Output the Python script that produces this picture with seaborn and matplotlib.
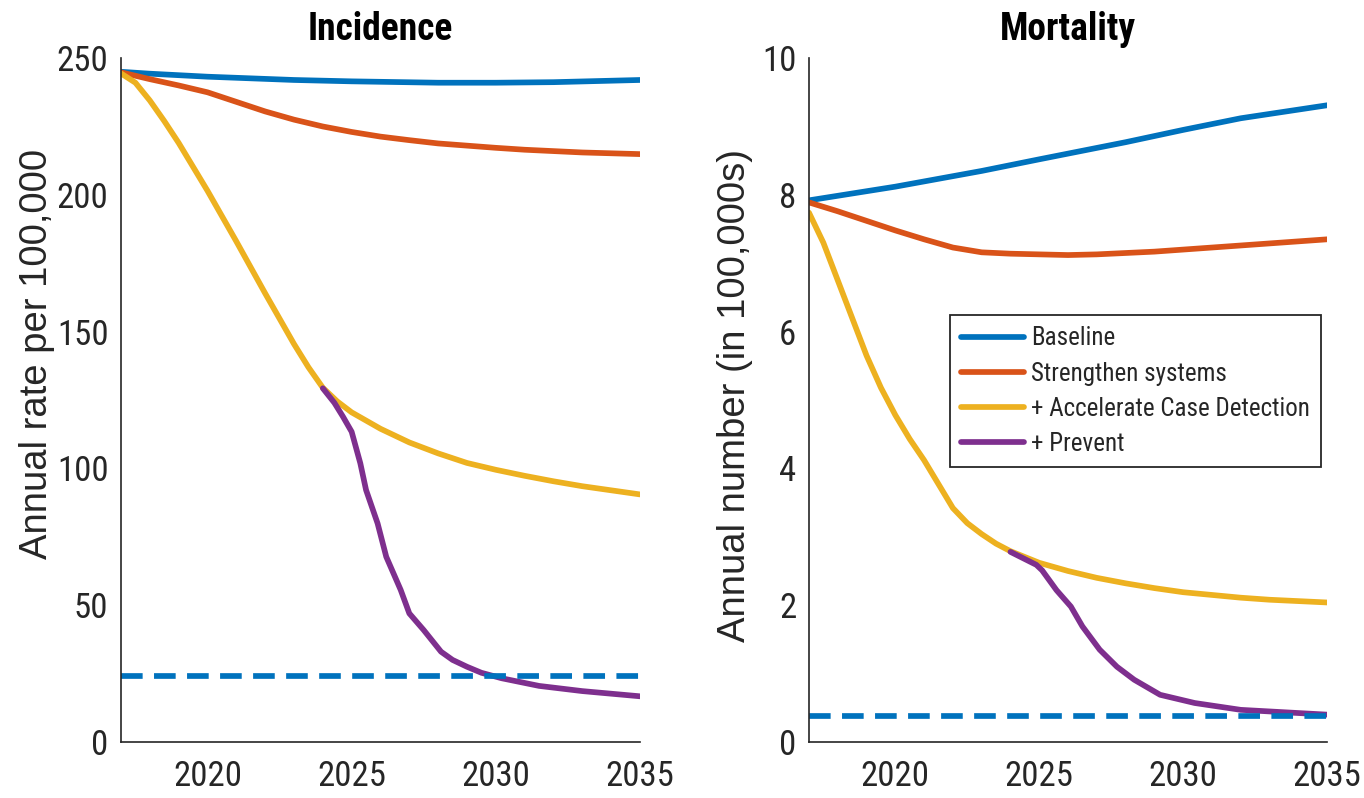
import pandas as pd
import numpy as np
import matplotlib
matplotlib.use('Agg')
import matplotlib.pyplot as plt
import seaborn as sns
from matplotlib import font_manager
from matplotlib.font_manager import FontProperties


# Scenario names and colours (MATLAB default order)
scenarios = ['Baseline', 'Strengthen systems', '+ Accelerate Case Detection', '+ Prevent']
colors = ['#0072BD', '#D95319', '#EDB120', '#7E2F8E']

# Incidence panel (rate per 100,000)
inc_base_yr = [2017, 2018, 2020, 2023, 2025, 2028, 2030, 2032, 2035]
inc_base = [245, 244.3, 243.2, 242.0, 241.5, 241, 241, 241.2, 242]

inc_str_yr = [2017, 2018, 2019, 2020, 2021, 2022, 2023, 2024, 2025, 2026, 2027,
              2028, 2029, 2030, 2031, 2032, 2033, 2034, 2035]
inc_str = [244.8, 242.3, 240, 237.5, 234, 230.5, 227.5, 225, 223, 221.3, 220,
           218.8, 218, 217.2, 216.5, 216, 215.5, 215.2, 214.9]

inc_acd_yr = [2017, 2017.5, 2018, 2018.5, 2019, 2020, 2021, 2022, 2023, 2023.5, 2024,
              2024.5, 2025, 2026, 2027, 2028, 2029, 2030, 2031, 2032, 2033, 2034, 2035]
inc_acd = [244.4, 241, 234.5, 227, 219, 201.5, 183, 164, 145.5, 137, 129.5,
           124.5, 120.5, 114.5, 109.5, 105.5, 102, 99.5, 97.3, 95.3, 93.5, 92, 90.5]

inc_prv_yr = [2024.0, 2024.4, 2024.7, 2025.0, 2025.3, 2025.5, 2025.9, 2026.2, 2026.7, 2027.0,
              2027.5, 2028.1, 2028.5, 2029.0, 2029.5, 2030.2, 2031.5, 2033, 2035]
inc_prv = [129.3, 124, 118.9, 113.4, 101.9, 92.1, 79.9, 67.7, 55.6, 47.0,
           40.9, 33.0, 30.0, 27.5, 25.3, 23.3, 20.5, 18.6, 16.7]

inc_target = 24.3

# Mortality panel (annual number in 100,000s)
mor_base_yr = [2017, 2020, 2023, 2025, 2028, 2030, 2032, 2035]
mor_base = [7.92, 8.12, 8.35, 8.52, 8.77, 8.95, 9.12, 9.31]

mor_str_yr = [2017, 2018, 2019, 2020, 2021, 2022, 2023, 2024, 2025, 2026, 2027,
              2028, 2029, 2030, 2031, 2032, 2033, 2034, 2035]
mor_str = [7.89, 7.76, 7.62, 7.48, 7.35, 7.23, 7.16, 7.14, 7.13, 7.12, 7.13,
           7.15, 7.17, 7.2, 7.23, 7.26, 7.29, 7.32, 7.35]

mor_acd_yr = [2017, 2017.5, 2018, 2018.5, 2019, 2019.5, 2020, 2020.5, 2021, 2021.5, 2022,
              2022.5, 2023, 2023.5, 2024, 2025, 2026, 2027, 2028, 2029, 2030, 2031,
              2032, 2033, 2034, 2035]
mor_acd = [7.74, 7.3, 6.75, 6.2, 5.65, 5.18, 4.78, 4.43, 4.12, 3.77, 3.42,
           3.2, 3.04, 2.9, 2.79, 2.62, 2.5, 2.4, 2.32, 2.25, 2.19, 2.15,
           2.11, 2.08, 2.06, 2.04]

mor_prv_yr = [2024.0, 2024.9, 2025.1, 2025.6, 2026.1, 2026.5, 2027.1, 2027.7, 2028.3,
              2029.2, 2030.4, 2032, 2035]
mor_prv = [2.78, 2.59, 2.51, 2.22, 1.98, 1.69, 1.35, 1.10, 0.91,
           0.69, 0.57, 0.47, 0.40]

mor_target = 0.385

inc_yticks = [0, 50, 100, 150, 200, 250]
mor_yticks = [0, 2, 4, 6, 8, 10]
xticks = [2020, 2025, 2030, 2035]


def long_frame(pairs):
    parts = []
    for name, (yr, val) in zip(scenarios, pairs):
        parts.append(pd.DataFrame({'year': yr, 'value': val, 'scenario': name}))
    return pd.concat(parts, ignore_index=True)


inc_df = long_frame([(inc_base_yr, inc_base), (inc_str_yr, inc_str),
                     (inc_acd_yr, inc_acd), (inc_prv_yr, inc_prv)])
mor_df = long_frame([(mor_base_yr, mor_base), (mor_str_yr, mor_str),
                     (mor_acd_yr, mor_acd), (mor_prv_yr, mor_prv)])

# Fonts: look for a narrow sans face, else shrink regular Liberation Sans
sns.set_theme(style='white')
plt.rcParams['font.family'] = ['Liberation Sans', 'DejaVu Sans']


def find_narrow(bold):
    best = None
    for f in font_manager.fontManager.ttflist:
        narrowish = ('Narrow' in f.name or 'Condensed' in f.name
                     or str(f.stretch) in ('condensed', 'semi-condensed', '75', '87.5'))
        if not narrowish or f.style != 'normal':
            continue
        w = f.weight if isinstance(f.weight, int) else (700 if 'bold' in str(f.weight) else 400)
        if (w >= 600) != bold:
            continue
        rank = 0 if 'Liberation' in f.name else (1 if 'Roboto' in f.name else 2)
        if best is None or rank < best[0]:
            best = (rank, f.fname)
    return best[1] if best else None


reg_file = find_narrow(False)
bold_file = find_narrow(True)
if reg_file:
    tick_fp = FontProperties(fname=reg_file, size=25)
    leg_fp = FontProperties(fname=reg_file, size=18)
else:
    tick_fp = FontProperties(family='Liberation Sans', size=20.5)
    leg_fp = FontProperties(family='Liberation Sans', size=15)
if bold_file:
    title_fp = FontProperties(fname=bold_file, size=27)
else:
    title_fp = FontProperties(family='Liberation Sans', weight='bold', size=23)

ink = '#262626'
lw = 4.1
fig = plt.figure(figsize=(13.64, 7.98), dpi=100)
ax1 = fig.add_axes([0.0887, 0.0702, 0.3805, 0.857])
ax2 = fig.add_axes([0.5931, 0.0702, 0.3798, 0.857])

palette = dict(zip(scenarios, colors))

panels = [
    (ax1, inc_df, inc_target, 'Incidence', 'Annual rate per 100,000', (0, 250), inc_yticks,
     (-0.127, 0.567)),
    (ax2, mor_df, mor_target, 'Mortality', 'Annual number (in 100,000s)', (0, 10), mor_yticks,
     (-0.108, 0.507)),
]

for ax, df, target, title, ylab, ylim, yt, lab_xy in panels:
    sns.lineplot(data=df, x='year', y='value', hue='scenario', hue_order=scenarios,
                 palette=palette, estimator=None, linewidth=lw, legend=(ax is ax2), ax=ax)
    ax.axhline(target, color=colors[0], linewidth=lw, dashes=(3.8, 2.0))
    ax.set_xlim(2017, 2035)
    ax.set_ylim(*ylim)
    ax.set_xticks(xticks)
    ax.set_yticks(yt)
    ax.set_xlabel('')
    ax.set_ylabel(ylab, fontsize=27.5, color=ink, family='Liberation Sans')
    ax.yaxis.set_label_coords(*lab_xy)
    ax.set_title(title, fontproperties=title_fp, color='black', pad=13)
    for s in ['top', 'right']:
        ax.spines[s].set_visible(False)
    for s in ['left', 'bottom']:
        ax.spines[s].set_color(ink)
        ax.spines[s].set_linewidth(1.2)
    ax.tick_params(axis='both', direction='in', length=5, width=1.2, color=ink,
                   labelcolor=ink)
    ax.tick_params(axis='x', pad=13)
    ax.tick_params(axis='y', pad=9)
    for lbl in ax.get_xticklabels() + ax.get_yticklabels():
        lbl.set_fontproperties(tick_fp)

handles, labels = ax2.get_legend_handles_labels()
leg = ax2.legend(handles[:4], labels[:4], loc='upper left', bbox_to_anchor=(0.272, 0.624),
                 borderaxespad=0, frameon=True, fancybox=False, edgecolor=ink,
                 framealpha=1, prop=leg_fp,
                 handlelength=2.5, handletextpad=0.3, labelspacing=0.45, borderpad=0.45)
leg.get_frame().set_linewidth(1.3)
for h in leg.legend_handles:
    h.set_linewidth(lw)

fig.savefig('out.png', dpi=100)
